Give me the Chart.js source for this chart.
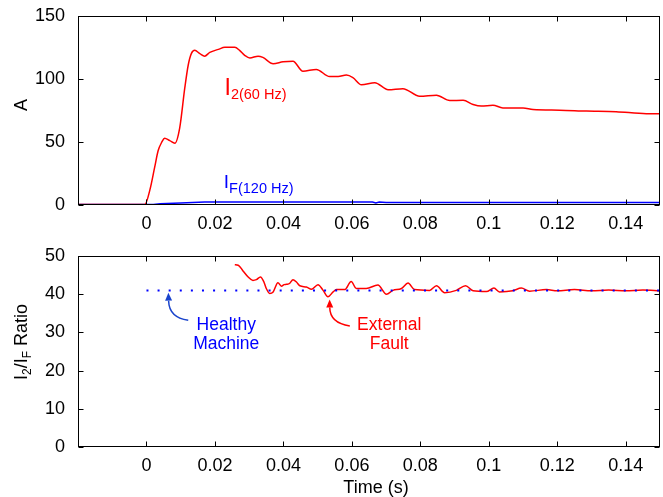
<!DOCTYPE html>
<html>
<head>
<meta charset="utf-8">
<script src="https://cdn.jsdelivr.net/npm/chart.js@4.4.1/dist/chart.umd.min.js"></script>
<style>
body { margin: 0; background: #fff; }
#wrap { position: relative; width: 663px; height: 497px; }
#wrap canvas { position: absolute; left: 0; }
#current { top: 0; }
#ratio { top: 240px; }
</style>
</head>
<body>
<div id="wrap">
  <canvas id="current" width="663" height="240"></canvas>
  <canvas id="ratio" width="663" height="257"></canvas>
</div>
<script>
const FONT = '"Liberation Sans", Arial, Helvetica, sans-serif';
const RED = '#ff0000';
const BLUE = '#0000ff';

// negative-sequence current I2 (60 Hz), A
const i2Time = [-0.02, -0.0005, 0.001, 0.0024, 0.0034, 0.0045, 0.0053, 0.0068, 0.0083, 0.0097, 0.0112, 0.0122,
  0.0131, 0.0141, 0.0156, 0.017, 0.0185, 0.021, 0.0229, 0.0258, 0.0272, 0.0287, 0.0302, 0.0326, 0.034, 0.037,
  0.0399, 0.0428, 0.0457, 0.0496, 0.0535, 0.056, 0.0584, 0.0603, 0.0628, 0.0667, 0.0706, 0.0749, 0.0798, 0.0847,
  0.0886, 0.0925, 0.0954, 0.0978, 0.1012, 0.1041, 0.11, 0.1129, 0.1207, 0.1285, 0.1372, 0.146, 0.15];
const i2Amps = [0.3, 0.3, 12, 30, 43, 50, 53, 51, 49, 61, 93, 111,
  120, 122.6, 120, 118, 121, 123.4, 125, 125, 122.6, 118.7, 116.6, 118, 117, 112,
  113.5, 114, 106, 107.5, 101.8, 101.8, 103, 101, 95.3, 97, 91.4, 92.2, 86.2, 87,
  82.8, 83, 79.7, 78.4, 79.1, 77, 77, 75.7, 75.2, 74.5, 74, 72.4, 72.4];

// fault current IF (120 Hz), A
const ifTime = [-0.02, 0.002, 0.004, 0.01, 0.017, 0.066, 0.067, 0.068, 0.07, 0.15];
const ifAmps = [0.4, 0.4, 1, 1.5, 2.4, 2.4, 1.6, 2.4, 1.9, 1.9];

// I2/IF ratio during the external fault
const ratioTime = [0.0258, 0.0268, 0.0282, 0.0297, 0.0311, 0.0321, 0.0333, 0.0343, 0.035, 0.036, 0.037, 0.0384,
  0.0394, 0.0402, 0.0409, 0.0418, 0.0428, 0.0438, 0.0448, 0.0467, 0.0482, 0.0501, 0.0516, 0.053, 0.0545, 0.0555,
  0.0579, 0.0598, 0.0613, 0.0642, 0.0676, 0.0701, 0.072, 0.0745, 0.0764, 0.0783, 0.0827, 0.0847, 0.0871, 0.0905,
  0.0932, 0.0954, 0.0993, 0.1015, 0.1031, 0.107, 0.1095, 0.1119, 0.1168, 0.12, 0.125, 0.13, 0.135, 0.14, 0.145, 0.15];
const ratioValues = [47.7, 47.6, 46.1, 44.5, 43.6, 43.8, 44.5, 43.2, 41.5, 40.2, 40.6, 43,
  42.1, 42.5, 42.6, 42.8, 43.8, 43.2, 42.2, 41.9, 41.3, 42.5, 41, 39.3, 40.6, 41.2,
  41.2, 43.3, 41.5, 41.5, 42.4, 40, 41, 41.5, 42.9, 41.2, 41, 42.2, 40.4, 41,
  42.2, 40.9, 40.7, 41.6, 40.6, 40.9, 41.6, 40.8, 41.2, 40.9, 41.2, 40.9, 41.1, 40.9, 41.1, 40.9];

// healthy machine ratio
const healthyTime = [0, 0.15];
const healthyRatio = [41, 41];

const timeTicks = [0, 0.02, 0.04, 0.06, 0.08, 0.1, 0.12, 0.14];
const ampTicks = [0, 50, 100, 150];
const ratioTicks = [0, 10, 20, 30, 40, 50];

function toPoints(xs, ys) {
  return xs.map((x, i) => ({ x: x, y: ys[i] }));
}

// draws text runs left to right, each with its own size and baseline shift
function drawRuns(ctx, x, y, runs, color, align) {
  ctx.fillStyle = color;
  ctx.textBaseline = 'alphabetic';
  ctx.textAlign = 'left';
  let w = 0;
  runs.forEach(r => { ctx.font = r[1] + 'px ' + FONT; w += ctx.measureText(r[0]).width; });
  let cx = align === 'center' ? x - w / 2 : x;
  runs.forEach(r => {
    ctx.font = r[1] + 'px ' + FONT;
    ctx.fillText(r[0], cx, y + (r[2] || 0));
    cx += ctx.measureText(r[0]).width;
  });
}

function drawArrow(ctx, from, ctrl, tip, color) {
  const ang = Math.atan2(tip.y - ctrl.y, tip.x - ctrl.x);
  const L = 8, W = 3.5;
  const bx = tip.x - L * Math.cos(ang), by = tip.y - L * Math.sin(ang);
  ctx.strokeStyle = color;
  ctx.fillStyle = color;
  ctx.lineWidth = 1.5;
  ctx.beginPath();
  ctx.moveTo(from.x, from.y);
  ctx.quadraticCurveTo(ctrl.x, ctrl.y, bx, by);
  ctx.stroke();
  ctx.beginPath();
  ctx.moveTo(tip.x, tip.y);
  ctx.lineTo(bx + W * Math.sin(ang), by - W * Math.cos(ang));
  ctx.lineTo(bx - W * Math.sin(ang), by + W * Math.cos(ang));
  ctx.closePath();
  ctx.fill();
}

// axes box with inward tick marks on all four sides
const boxTicks = {
  id: 'boxTicks',
  afterDatasetsDraw(chart) {
    const { ctx, chartArea: a, scales: { x, y } } = chart;
    const l = Math.round(a.left) + 0.5, r = Math.round(a.right) - 0.5;
    const t = Math.round(a.top) + 0.5, b = Math.round(a.bottom) - 0.5;
    ctx.save();
    ctx.strokeStyle = '#000';
    ctx.lineWidth = 1;
    ctx.beginPath();
    x.ticks.forEach(tk => {
      const px = Math.round(x.getPixelForValue(tk.value)) + 0.5;
      ctx.moveTo(px, b); ctx.lineTo(px, b - 5);
      ctx.moveTo(px, t); ctx.lineTo(px, t + 5);
    });
    y.ticks.forEach(tk => {
      const py = Math.round(y.getPixelForValue(tk.value)) + 0.5;
      ctx.moveTo(l, py); ctx.lineTo(l + 5, py);
      ctx.moveTo(r, py); ctx.lineTo(r - 5, py);
    });
    ctx.stroke();
    ctx.strokeRect(l, t, r - l, b - t);
    ctx.restore();
  }
};

function scalesFor(yTicks, yMax, xHeight) {
  const tickFont = { family: FONT, size: 18 };
  return {
    x: {
      type: 'linear', min: -0.02, max: 0.15,
      grid: { display: false }, border: { display: false },
      afterBuildTicks: s => { s.ticks = timeTicks.map(v => ({ value: v })); },
      afterFit: s => { s.height = xHeight; },
      ticks: { font: tickFont, color: '#000', padding: 0, maxRotation: 0, autoSkip: false,
        callback: v => String(+v.toFixed(4)) }
    },
    y: {
      type: 'linear', min: 0, max: yMax,
      grid: { display: false }, border: { display: false },
      afterBuildTicks: s => { s.ticks = yTicks.map(v => ({ value: v })); },
      afterFit: s => { s.width = 78; },
      ticks: { font: tickFont, color: '#000', padding: 5 }
    }
  };
}

const common = {
  responsive: false,
  animation: false,
  devicePixelRatio: 1,
  plugins: { legend: { display: false }, tooltip: { enabled: false } },
  elements: { point: { radius: 0 } }
};

// top panel: current magnitudes
const currentLabels = {
  id: 'currentLabels',
  afterDatasetsDraw(chart) {
    const { ctx, scales: { x, y } } = chart;
    ctx.save();
    drawRuns(ctx, x.getPixelForValue(0.0228), y.getPixelForValue(87),
      [['I', 23], ['2(60 Hz)', 14.5, 4]], RED);
    drawRuns(ctx, x.getPixelForValue(0.0226), y.getPixelForValue(13.3),
      [['I', 19], ['F(120 Hz)', 14.5, 5]], BLUE);
    // y axis title
    ctx.translate(27, 105);
    ctx.rotate(-Math.PI / 2);
    drawRuns(ctx, 0, 0, [['A', 18]], '#000', 'center');
    ctx.restore();
  }
};

new Chart(document.getElementById('current'), {
  type: 'line',
  data: {
    datasets: [
      { data: toPoints(i2Time, i2Amps), borderColor: RED, borderWidth: 1.5, cubicInterpolationMode: 'monotone' },
      { data: toPoints(ifTime, ifAmps), borderColor: BLUE, borderWidth: 1.5, tension: 0 }
    ]
  },
  options: Object.assign({}, common, {
    layout: { padding: { top: 13, right: 3, left: 0, bottom: 0 } },
    scales: scalesFor(ampTicks, 150, 35)
  }),
  plugins: [boxTicks, currentLabels]
});

// bottom panel: ratio
const ratioLabels = {
  id: 'ratioLabels',
  afterDatasetsDraw(chart) {
    const { ctx, scales: { x, y } } = chart;
    const p = (t, v) => ({ x: x.getPixelForValue(t), y: y.getPixelForValue(v) });
    ctx.save();
    const hx = x.getPixelForValue(0.0233);
    drawRuns(ctx, hx, y.getPixelForValue(30.6), [['Healthy', 17.5]], BLUE, 'center');
    drawRuns(ctx, hx, y.getPixelForValue(25.65), [['Machine', 17.5]], BLUE, 'center');
    drawArrow(ctx, p(0.0122, 33.2), p(0.0066, 33.9), p(0.0064, 40.4), '#1a44cc');
    const ex = x.getPixelForValue(0.0709);
    drawRuns(ctx, ex, y.getPixelForValue(30.6), [['External', 17.5]], RED, 'center');
    drawRuns(ctx, ex, y.getPixelForValue(25.65), [['Fault', 17.5]], RED, 'center');
    drawArrow(ctx, p(0.0594, 31.7), p(0.0536, 32.4), p(0.0535, 38.6), RED);
    // axis titles
    drawRuns(ctx, 376, 252.7, [['Time (s)', 18]], '#000', 'center');
    ctx.translate(26.5, 102);
    ctx.rotate(-Math.PI / 2);
    drawRuns(ctx, 0, 0, [['I', 18], ['2', 12, 4], ['/I', 18], ['F', 12, 4], [' Ratio', 18]], '#000', 'center');
    ctx.restore();
  }
};

new Chart(document.getElementById('ratio'), {
  type: 'line',
  data: {
    datasets: [
      { data: toPoints(healthyTime, healthyRatio), borderColor: BLUE, borderWidth: 2, borderDash: [2, 9.1] },
      { data: toPoints(ratioTime, ratioValues), borderColor: RED, borderWidth: 1.5, cubicInterpolationMode: 'monotone' }
    ]
  },
  options: Object.assign({}, common, {
    layout: { padding: { top: 16, right: 3, left: 0, bottom: 0 } },
    scales: scalesFor(ratioTicks, 50, 50)
  }),
  plugins: [boxTicks, ratioLabels]
});
</script>
</body>
</html>
